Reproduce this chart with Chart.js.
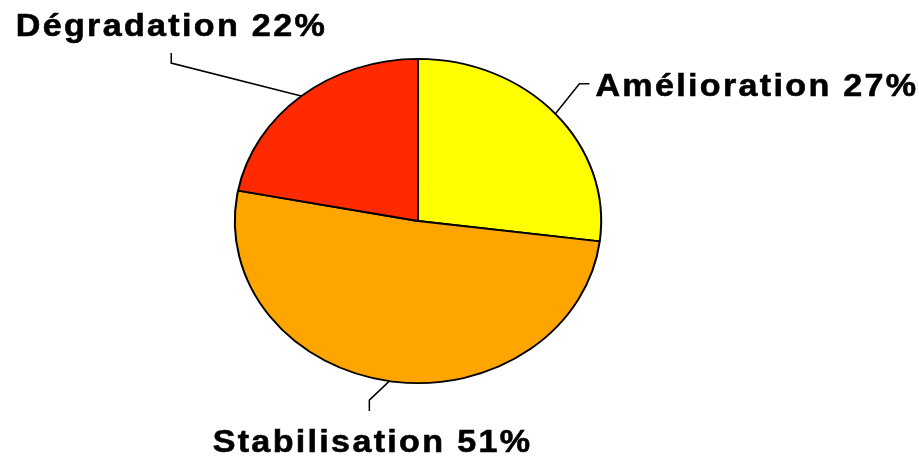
<!DOCTYPE html>
<html>
<head>
<meta charset="utf-8">
<script src="https://cdn.jsdelivr.net/npm/chart.js@4"></script>
<style>
    html, body { margin: 0; padding: 0; background: #fff; }
    #wrap { width: 919px; height: 459px; }
</style>
</head>
<body>
<div id="wrap"><canvas id="chart-evolution" width="919" height="459"></canvas></div>
<script>
const labelsEvolution = ['Amélioration', 'Stabilisation', 'Dégradation'];
const valuesEvolution = [27, 51, 22];
const colorsEvolution = ['#FFFF00', '#FFA500', '#FF2A00'];

// the pie is drawn a little wider than tall, and so is the text
const stretchX = 1.13;
const textStretch = 1.1;
const letterGap = 2.1;

// leader line bends and text anchors, relative to the slice's edge point
const calloutStyles = [
    { elbow: [24, -30], end: [34, -30], text: [40, -18], align: 'left' },
    { elbow: [-20, 19], end: [-20, 30], text: [-18, 71], align: 'center' },
    { elbow: [-130, -33], end: [-130, -43], text: [-131, -60], align: 'center' }
];

const stretchPie = {
    id: 'stretchPie',
    beforeDatasetsDraw(chart) {
        const arc = chart.getDatasetMeta(0).data[0];
        const ctx = chart.ctx;
        ctx.save();
        ctx.translate(arc.x, arc.y);
        ctx.scale(stretchX, 1);
        ctx.translate(-arc.x, -arc.y);
    },
    afterDatasetsDraw(chart) {
        chart.ctx.restore();
    }
};

const callouts = {
    id: 'callouts',
    afterDraw(chart) {
        const ctx = chart.ctx;
        const meta = chart.getDatasetMeta(0);
        meta.data.forEach((arc, i) => {
            const mid = (arc.startAngle + arc.endAngle) / 2;
            const px = arc.x + Math.cos(mid) * arc.outerRadius * stretchX;
            const py = arc.y + Math.sin(mid) * arc.outerRadius;
            const st = calloutStyles[i];

            ctx.save();
            ctx.strokeStyle = '#000';
            ctx.lineWidth = 1.5;
            ctx.beginPath();
            ctx.moveTo(px, py);
            ctx.lineTo(px + st.elbow[0], py + st.elbow[1]);
            ctx.lineTo(px + st.end[0], py + st.end[1]);
            ctx.stroke();

            ctx.fillStyle = '#000';
            ctx.font = 'bold 31px "Liberation Sans", Arial, sans-serif';
            ctx.letterSpacing = letterGap + 'px';
            ctx.textAlign = 'left';
            ctx.textBaseline = 'alphabetic';
            const text = labelsEvolution[i] + ' ' + valuesEvolution[i] + '%';
            const w = (ctx.measureText(text).width - letterGap) * textStretch;
            let tx = px + st.text[0];
            if (st.align === 'center') {
                tx -= w / 2;
            }
            ctx.translate(tx, py + st.text[1]);
            ctx.scale(textStretch, 1);
            ctx.lineWidth = 0.6;
            ctx.fillText(text, 0, 0);
            ctx.strokeText(text, 0, 0);
            ctx.restore();
        });
    }
};

const dataEvolution = {
    labels: labelsEvolution,
    datasets: [{
        data: valuesEvolution,
        backgroundColor: colorsEvolution,
        borderColor: '#000',
        borderWidth: 1.8,
        hoverOffset: 0
    }]
};

const configEvolution = {
    type: 'pie',
    data: dataEvolution,
    options: {
        responsive: false,
        animation: false,
        events: [],
        layout: {
            padding: { top: 58, bottom: 75, left: 236, right: 319 }
        },
        plugins: {
            legend: { display: false },
            tooltip: { enabled: false }
        }
    },
    plugins: [stretchPie, callouts]
};

const chartEvolution = new Chart(
    document.getElementById('chart-evolution'),
    configEvolution
);
</script>
</body>
</html>
